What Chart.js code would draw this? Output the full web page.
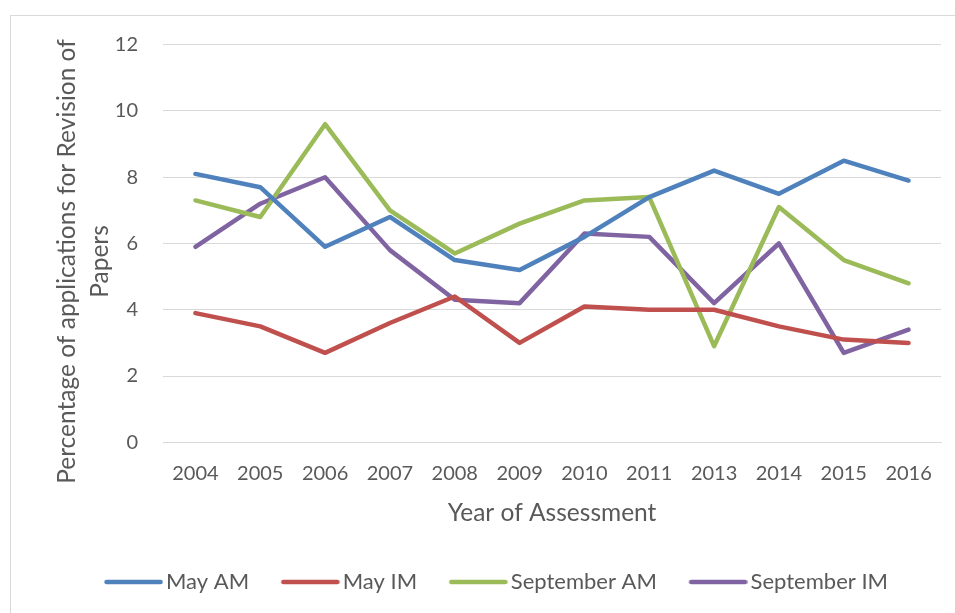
<!DOCTYPE html>
<html>
<head>
<meta charset="utf-8">
<script src="https://cdn.jsdelivr.net/npm/chart.js@4.4.1/dist/chart.umd.min.js"></script>
<style>
html,body{margin:0;padding:0;background:#fff;}
#wrap{width:955px;height:613px;position:relative;}
</style>
</head>
<body>
<div id="wrap"><canvas id="c" width="955" height="613"></canvas></div>
<script>
const years = ["2004","2005","2006","2007","2008","2009","2010","2011","2013","2014","2015","2016"];
const mayAM = [8.1, 7.7, 5.9, 6.8, 5.5, 5.2, 6.2, 7.4, 8.2, 7.5, 8.5, 7.9];
const mayIM = [3.9, 3.5, 2.7, 3.6, 4.4, 3.0, 4.1, 4.0, 4.0, 3.5, 3.1, 3.0];
const sepAM = [7.3, 6.8, 9.6, 7.0, 5.7, 6.6, 7.3, 7.4, 2.9, 7.1, 5.5, 4.8];
const sepIM = [5.9, 7.2, 8.0, 5.8, 4.3, 4.2, 6.3, 6.2, 4.2, 6.0, 2.7, 3.4];
const yTicks = [0, 2, 4, 6, 8, 10, 12];

const FONT = "Lato, 'Open Sans', sans-serif";
const TXT = "#595959";

// legend swatch: a short rounded line, drawn a bit right of centre so it sits close to the text
function swatch(color){
  const c = document.createElement('canvas');
  c.width = 68; c.height = 8;
  const g = c.getContext('2d');
  g.strokeStyle = color; g.lineWidth = 4.5; g.lineCap = 'round';
  g.beginPath(); g.moveTo(11.5, 4); g.lineTo(65.5, 4); g.stroke();
  return c;
}

function ds(label, data, color){
  return {label, data, borderColor: color, backgroundColor: color,
    borderWidth: 4.5, pointRadius: 0, pointHoverRadius: 0, tension: 0,
    pointStyle: swatch(color),
    borderCapStyle: 'round', borderJoinStyle: 'round', fill: false};
}

const framePlugin = {
  id: 'frame',
  beforeDraw(chart){
    const ctx = chart.ctx;
    ctx.save();
    ctx.fillStyle = '#ffffff';
    ctx.fillRect(0,0,chart.width,chart.height);
    ctx.strokeStyle = '#d9d9d9';
    ctx.lineWidth = 1;
    ctx.strokeRect(10.5, 15.5, 1000, 1000);
    ctx.restore();
  },
  afterLayout(chart){
    const s = chart.scales.y;
    if (s && !s._titleShifted){
      const orig = s.drawTitle.bind(s);
      s.drawTitle = function(){
        const ctx = chart.ctx;
        ctx.save(); ctx.translate(0, 18); orig(); ctx.restore();
      };
      s._titleShifted = true;
    }
  }
};

new Chart(document.getElementById('c'), {
  type: 'line',
  data: {
    labels: years,
    datasets: [
      ds('May AM', mayAM, '#4f81bd'),
      ds('May IM', mayIM, '#c0504d'),
      ds('September AM', sepAM, '#9bbb59'),
      ds('September IM', sepIM, '#8064a2')
    ]
  },
  options: {
    responsive: false,
    animation: false,
    events: [],
    layout: { padding: { left: 50, right: 14, top: 44.7, bottom: 10 } },
    scales: {
      x: {
        offset: true,
        grid: { display: false, drawTicks: false },
        border: { display: true, color: '#d9d9d9', width: 1 },
        ticks: { color: TXT, font: { family: FONT, size: 20 }, padding: 19, maxRotation: 0, autoSkip: false },
        title: { display: true, text: 'Year of Assessment', color: TXT,
                 font: { family: FONT, size: 24.5, lineHeight: 1.2 }, padding: { top: 0, bottom: 13 } },
        afterFit(scale){ scale.height = 98; }
      },
      y: {
        min: 0, max: 12,
        afterBuildTicks(scale){ scale.ticks = yTicks.map(v => ({value: v})); },
        grid: { color: '#d9d9d9', lineWidth: 1, drawTicks: false },
        border: { display: false },
        ticks: { color: TXT, font: { family: FONT, size: 20 }, padding: 25 },
        title: { display: true, text: ['Percentage of applications for Revision of', 'Papers'], color: TXT,
                 font: { family: FONT, size: 24.5, lineHeight: 1.36 }, padding: { top: 0, bottom: 0 } },
        afterFit(scale){ scale.width = 113; }
      }
    },
    plugins: {
      tooltip: { enabled: false },
      legend: {
        position: 'bottom',
        labels: {
          usePointStyle: true, pointStyleWidth: 52, boxHeight: 22,
          padding: 30.7, color: TXT, font: { family: FONT, size: 22 }
        }
      }
    }
  },
  plugins: [framePlugin]
});
</script>
</body>
</html>
